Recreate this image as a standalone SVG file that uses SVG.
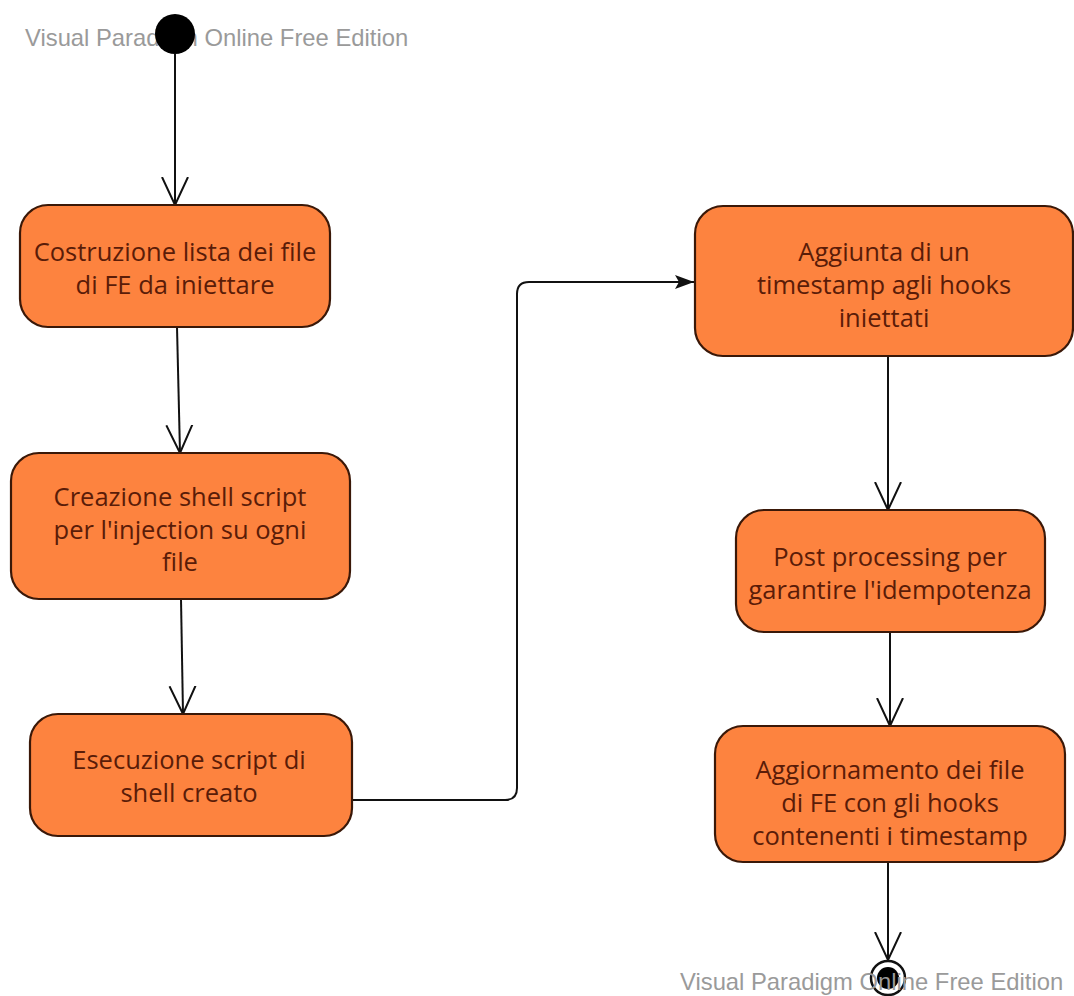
<svg xmlns="http://www.w3.org/2000/svg" width="1074" height="996" viewBox="0 0 1074 996">
  <defs>
    <!-- open V arrowhead for control flows -->
    <marker id="open" viewBox="0 0 30 30" markerWidth="30" markerHeight="30" refX="28" refY="15" orient="auto" markerUnits="userSpaceOnUse">
      <path d="M0,2 L28,15 L0,28" fill="none" stroke="#111" stroke-width="2"/>
    </marker>
    <!-- filled arrowhead -->
    <marker id="solid" viewBox="0 0 20 16" markerWidth="20" markerHeight="16" refX="19" refY="8" orient="auto" markerUnits="userSpaceOnUse">
      <path d="M0,1 L19,8 L0,15 L4,8 Z" fill="#111"/>
    </marker>
    <style>
      .act { fill: #fd833f; stroke: #3a1808; stroke-width: 2.2; }
      .lbl { font-family: "Open Sans", "DejaVu Sans", sans-serif; font-size: 25.5px; fill: #5a1c08; text-anchor: middle; }
      .wm { font-family: "Liberation Sans", Arial, sans-serif; font-size: 23.8px; fill: #9a9a9a; }
      .flow { fill: none; stroke: #111; stroke-width: 2; }
    </style>
  </defs>
  <rect width="1074" height="996" fill="#ffffff"/>

  <!-- connectors -->
  <g id="connectors">
    <line class="flow" x1="175" y1="54" x2="175" y2="205" marker-end="url(#open)"/>
    <line class="flow" x1="177" y1="327" x2="180" y2="453" marker-end="url(#open)"/>
    <line class="flow" x1="181" y1="599" x2="183" y2="714" marker-end="url(#open)"/>
    <path class="flow" d="M352,800 L505,800 Q517,800 517,788 L517,294 Q517,282 529,282 L694,282" marker-end="url(#solid)"/>
    <line class="flow" x1="888" y1="356" x2="888" y2="510" marker-end="url(#open)"/>
    <line class="flow" x1="890" y1="632" x2="890" y2="726" marker-end="url(#open)"/>
    <line class="flow" x1="888" y1="862" x2="888" y2="960" marker-end="url(#open)"/>
  </g>

  <!-- initial node -->
  <g id="start">
    <text class="wm" x="25" y="46">Visual Paradigm Online Free Edition</text>
    <circle cx="175" cy="34" r="20" fill="#000"/>
  </g>

  <g id="n1">
    <rect class="act" x="20" y="205" width="310" height="122" rx="28"/>
    <text class="lbl" x="175" y="261">Costruzione lista dei file</text>
    <text class="lbl" x="175" y="294">di FE da iniettare</text>
  </g>

  <g id="n2">
    <rect class="act" x="11" y="453" width="339" height="146" rx="28"/>
    <text class="lbl" x="180" y="506">Creazione shell script</text>
    <text class="lbl" x="180" y="539">per l'injection su ogni</text>
    <text class="lbl" x="180" y="571">file</text>
  </g>

  <g id="n3">
    <rect class="act" x="30" y="714" width="322" height="122" rx="28"/>
    <text class="lbl" x="189" y="769">Esecuzione script di</text>
    <text class="lbl" x="189" y="802">shell creato</text>
  </g>

  <g id="n4">
    <rect class="act" x="695" y="206" width="378" height="150" rx="28"/>
    <text class="lbl" x="884" y="261">Aggiunta di un</text>
    <text class="lbl" x="884" y="294">timestamp agli hooks</text>
    <text class="lbl" x="884" y="327">iniettati</text>
  </g>

  <g id="n5">
    <rect class="act" x="736" y="510" width="309" height="122" rx="28"/>
    <text class="lbl" x="890" y="566">Post processing per</text>
    <text class="lbl" x="890" y="599">garantire l'idempotenza</text>
  </g>

  <g id="n6">
    <rect class="act" x="715" y="726" width="350" height="136" rx="28"/>
    <text class="lbl" x="890" y="779">Aggiornamento dei file</text>
    <text class="lbl" x="890" y="812">di FE con gli hooks</text>
    <text class="lbl" x="890" y="845">contenenti i timestamp</text>
  </g>

  <!-- final node -->
  <g id="end">
    <circle cx="888" cy="978" r="17" fill="#fff" stroke="#111" stroke-width="2.5"/>
    <circle cx="888" cy="978" r="11" fill="#000"/>
    <text class="wm" x="680" y="990">Visual Paradigm Online Free Edition</text>
  </g>
</svg>
